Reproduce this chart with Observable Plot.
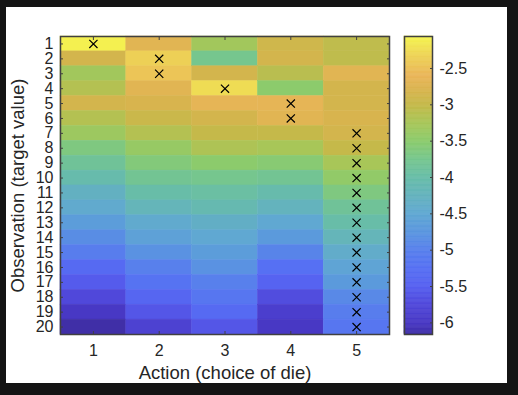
<!DOCTYPE html>
<html><head><meta charset="utf-8">
<script src="https://cdn.jsdelivr.net/npm/d3@7"></script>
<script src="https://cdn.jsdelivr.net/npm/@observablehq/plot@0.6"></script>
<style>
html,body{margin:0;padding:0;background:#141414;width:518px;height:395px;overflow:hidden;}
#panel{position:absolute;left:6px;top:7px;width:501px;height:376px;background:#fff;}
#main,#cbar{position:absolute;top:0;}
#main{left:0;width:501px;height:376px}
#cbar{left:398px;width:100px;height:376px}
svg{max-width:none !important;}
</style></head><body><div id="panel"><div id="main"></div><div id="cbar"></div></div>
<script>
const actions = [1, 2, 3, 4, 5];
const observations = [1,2,3,4,5,6,7,8,9,10,11,12,13,14,15,16,17,18,19,20];
const action1 = [-2.1,-2.85,-3.3,-3.15,-2.85,-3.15,-3.35,-3.65,-3.85,-4.05,-4.3,-4.45,-4.65,-4.85,-5.05,-5.35,-5.55,-5.75,-6.0,-6.15];
const action2 = [-2.7,-2.35,-2.45,-2.7,-2.8,-2.95,-3.15,-3.4,-3.6,-3.8,-4.0,-4.2,-4.45,-4.6,-4.8,-5.0,-5.2,-5.4,-5.6,-5.85];
const action3 = [-3.3,-3.75,-2.85,-2.25,-2.65,-2.85,-3.0,-3.2,-3.5,-3.75,-3.95,-4.1,-4.35,-4.5,-4.65,-4.8,-5.0,-5.15,-5.35,-5.6];
const action4 = [-2.9,-2.85,-3.1,-3.5,-2.65,-2.7,-3.0,-3.25,-3.55,-3.8,-4.05,-4.25,-4.5,-4.7,-4.95,-5.25,-5.45,-5.7,-5.9,-6.0];
const action5 = [-3.05,-3.05,-2.7,-2.85,-2.85,-2.8,-2.85,-3.0,-3.25,-3.45,-3.65,-3.85,-4.0,-4.2,-4.4,-4.55,-4.7,-4.9,-5.05,-5.15];
const bestAction = [1,2,2,3,4,4,5,5,5,5,5,5,5,5,5,5,5,5,5,5];
const colorbarTicks = [-6, -5.5, -5, -4.5, -4, -3.5, -3, -2.5];
const colorLimits = [-6.16, -2.06];

// colormap stops (value -> colour)
const cmapValues = [-6.16, -6.0, -5.75, -5.5, -5.25, -5.0, -4.75, -4.5, -4.0, -3.75, -3.5, -3.25, -3.0, -2.8, -2.6, -2.3, -2.06];
const cmapColors = ["#3f2ea5","#4838c4","#5048da","#5660f0","#5670f3","#5880ec","#5a96df","#60a8d2","#68bda8","#76c68e","#8ccb6c","#a8c658","#c5b94a","#d8b44e","#eab559","#eed655","#f5f54f"];

const allCols = [action1, action2, action3, action4, action5];
const cells = [];
actions.forEach((a, i) => observations.forEach((o, j) => cells.push({action: a, obs: o, value: allCols[i][j]})));
const picks = observations.map((o, j) => ({action: bestAction[j], obs: o}));

const colorScale = {type: "linear", domain: cmapValues, range: cmapColors, clamp: true};
const font = {fontFamily: "'Liberation Sans', Arial, sans-serif", fontSize: "16px", color: "#262626", background: "transparent", overflow: "visible"};
const frameColor = "#404040";

const main = Plot.plot({
  width: 501, height: 376,
  marginLeft: 54, marginRight: 118, marginTop: 29, marginBottom: 49,
  style: font,
  x: {type: "band", domain: actions, padding: 0, round: false, label: null},
  y: {type: "band", domain: observations, padding: 0, round: false, label: null},
  color: colorScale,
  marks: [
    Plot.cell(cells, {x: "action", y: "obs", fill: "value", stroke: "value", strokeWidth: 0.5}),
    Plot.dot(picks, {x: "action", y: "obs", symbol: "times", r: 3.8, stroke: "#000", strokeWidth: 1.2}),
    Plot.axisX({anchor: "bottom", tickSize: 0, tickPadding: 10, label: null}),
    Plot.axisX({anchor: "bottom", tickSize: -3, tickFormat: () => "", stroke: frameColor, label: null}),
    Plot.axisX({anchor: "top", tickSize: -3, tickFormat: () => "", stroke: frameColor, label: null}),
    Plot.axisY({anchor: "left", tickSize: 0, tickPadding: 7, fontSize: 16, label: null}),
    Plot.axisY({anchor: "left", tickSize: -3, tickFormat: () => "", stroke: frameColor, label: null}),
    Plot.axisY({anchor: "right", tickSize: -3, tickFormat: () => "", stroke: frameColor, label: null}),
    Plot.frame({stroke: frameColor, strokeWidth: 1.5}),
    Plot.text(["Observation (target value)"], {frameAnchor: "left", dx: -42, rotate: -90, textAnchor: "middle", lineAnchor: "middle", fontSize: 18.5, fill: "#262626"}),
    Plot.text(["Action (choice of die)"], {frameAnchor: "bottom", dy: 39, textAnchor: "middle", lineAnchor: "middle", fontSize: 18.5, fill: "#262626"})
  ]
});
document.getElementById("main").appendChild(main);

const nSlices = 240;
const slices = d3.range(nSlices).map(i => {
  const a = colorLimits[0] + (colorLimits[1] - colorLimits[0]) * i / nSlices;
  const b = colorLimits[0] + (colorLimits[1] - colorLimits[0]) * (i + 1) / nSlices;
  return {y1: a, y2: b, v: (a + b) / 2};
});

const cbar = Plot.plot({
  width: 100, height: 376,
  marginLeft: 0, marginRight: 72, marginTop: 29, marginBottom: 49,
  style: font,
  y: {domain: colorLimits, label: null},
  color: colorScale,
  marks: [
    Plot.rect(slices, {y1: "y1", y2: "y2", fill: "v", stroke: "v", strokeWidth: 0.6}),
    Plot.axisY(colorbarTicks, {anchor: "right", tickSize: 0, tickPadding: 7, tickFormat: d => String(d), label: null}),
    Plot.axisY(colorbarTicks, {anchor: "right", tickSize: -3, tickFormat: () => "", stroke: frameColor, label: null}),
    Plot.frame({stroke: frameColor, strokeWidth: 1.5})
  ]
});
document.getElementById("cbar").appendChild(cbar);
</script></body></html>
